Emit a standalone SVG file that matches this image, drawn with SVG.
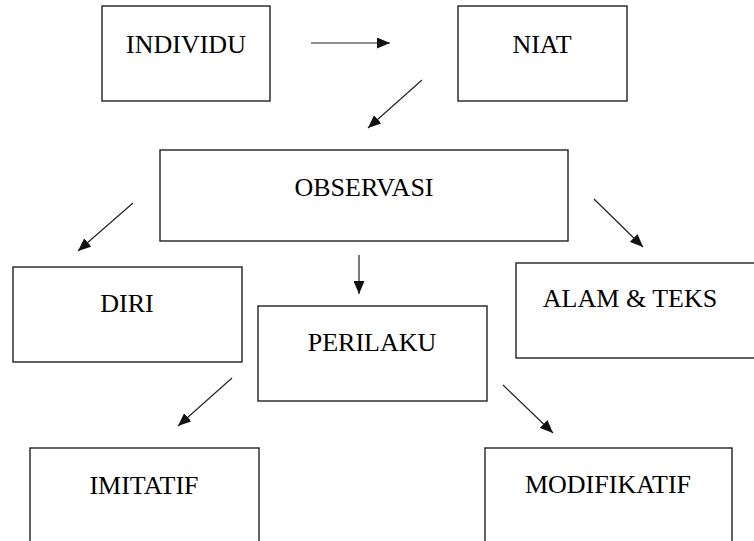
<svg xmlns="http://www.w3.org/2000/svg" width="754" height="541" viewBox="0 0 754 541">
<style>
.box{fill:#fff;stroke:#222;stroke-width:1.4}
.lbl{font-family:'Liberation Serif','Times New Roman',serif;font-size:26px;fill:#000;text-anchor:middle}
.arr{stroke:#222;stroke-width:1.2;fill:none;marker-end:url(#ah)}
</style>
<defs>
<marker id="ah" markerUnits="userSpaceOnUse" markerWidth="13" markerHeight="11" refX="13" refY="5.5" orient="auto">
<path d="M0,0 L13,5.5 L0,11 z" fill="#111"/>
</marker>
</defs>
<rect width="754" height="541" fill="#fff"/>
<g id="individu"><rect class="box" x="102" y="6" width="168" height="95"/><text class="lbl" x="186" y="53">INDIVIDU</text></g>
<g id="niat"><rect class="box" x="458" y="6" width="169" height="95"/><text class="lbl" x="542" y="53">NIAT</text></g>
<g id="observasi"><rect class="box" x="160" y="150" width="408" height="91"/><text class="lbl" x="364" y="196">OBSERVASI</text></g>
<g id="diri"><rect class="box" x="13" y="267" width="229" height="95"/><text class="lbl" x="127" y="312">DIRI</text></g>
<g id="perilaku"><rect class="box" x="258" y="306" width="229" height="95"/><text class="lbl" x="372" y="351">PERILAKU</text></g>
<g id="alam"><rect class="box" x="516" y="263" width="250" height="95"/><text class="lbl" x="630" y="307">ALAM &amp; TEKS</text></g>
<g id="imitatif"><rect class="box" x="30" y="448" width="229" height="110"/><text class="lbl" x="144" y="494">IMITATIF</text></g>
<g id="modifikatif"><rect class="box" x="485" y="448" width="247" height="110"/><text class="lbl" x="608" y="493">MODIFIKATIF</text></g>
<g id="connectors">
<line class="arr" x1="311" y1="43" x2="390" y2="43"/>
<line class="arr" x1="422" y1="80" x2="368" y2="128"/>
<line class="arr" x1="133" y1="203" x2="78" y2="251"/>
<line class="arr" x1="359" y1="255" x2="359" y2="294"/>
<line class="arr" x1="594" y1="199" x2="643" y2="247"/>
<line class="arr" x1="232" y1="378" x2="178" y2="426"/>
<line class="arr" x1="503" y1="385" x2="553" y2="433"/>
</g>
</svg>
